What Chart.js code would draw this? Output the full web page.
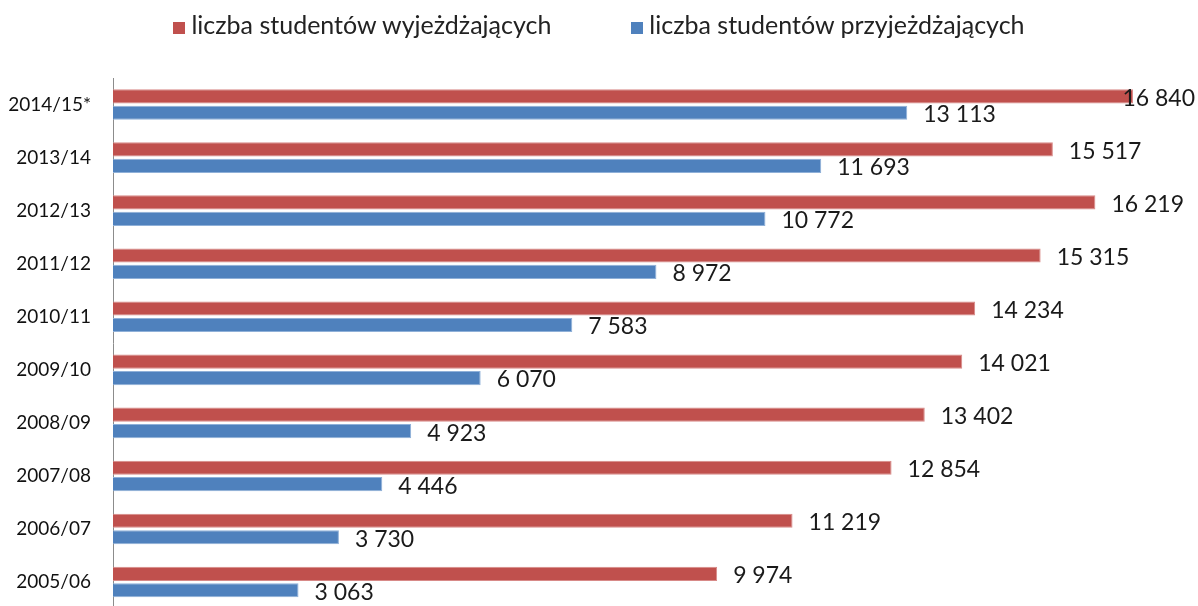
<!DOCTYPE html>
<html>
<head>
<meta charset="utf-8">
<script src="https://cdn.jsdelivr.net/npm/chart.js@4"></script>
<style>
  html, body { margin: 0; padding: 0; background: #fff; overflow: hidden; }
  #wrap { position: relative; width: 1198px; height: 606px; overflow: hidden; }
  #legend {
    position: absolute; top: 9px; left: 0; width: 1198px;
    display: flex; justify-content: center; gap: 80px;
    font: 25px Lato, "Noto Sans", sans-serif; color: #222;
  }
  #legend span.box { display: inline-block; width: 12px; height: 12px; margin-right: 6px; }
</style>
</head>
<body>
<div id="wrap">
  <div id="legend"></div>
  <canvas id="chart" width="1198" height="634"></canvas>
</div>
<script>
// Data
const years = ["2014/15*", "2013/14", "2012/13", "2011/12", "2010/11", "2009/10", "2008/09", "2007/08", "2006/07", "2005/06"];
const outgoing = [16840, 15517, 16219, 15315, 14234, 14021, 13402, 12854, 11219, 9974];
const incoming = [13113, 11693, 10772, 8972, 7583, 6070, 4923, 4446, 3730, 3063];
const seriesNames = ["liczba studentów wyjeżdżających", "liczba studentów przyjeżdżających"];
const colors = ["#C0504D", "#4F81BD"];

// Legend
const legend = document.getElementById("legend");
seriesNames.forEach((name, i) => {
  legend.innerHTML += `<div><span class="box" style="background:${colors[i]}"></span>${name}</div>`;
});

function fmt(v) {
  return v.toString().replace(/\B(?=(\d{3})+(?!\d))/g, " ");
}

// Value labels next to bars
const valueLabels = {
  id: "valueLabels",
  afterDatasetsDraw(chart) {
    const ctx = chart.ctx;
    ctx.save();
    ctx.font = "23px Lato, 'Noto Sans', sans-serif";
    ctx.fillStyle = "#1a1a1a";
    ctx.textBaseline = "middle";
    chart.data.datasets.forEach((ds, i) => {
      chart.getDatasetMeta(i).data.forEach((bar, j) => {
        const txt = fmt(ds.data[j]);
        const w = ctx.measureText(txt).width;
        let x = bar.x + 16;
        if (x + w > chart.width - 3) x = chart.width - 3 - w;
        ctx.fillText(txt, x, bar.y + 2);
      });
    });
    ctx.restore();
  }
};

new Chart(document.getElementById("chart"), {
  type: "bar",
  data: {
    labels: years,
    datasets: [
      {
        label: seriesNames[0],
        data: outgoing,
        backgroundColor: colors[0],
        borderColor: "#d88a88",
        borderWidth: 1,
        categoryPercentage: 0.62,
        barPercentage: 0.86
      },
      {
        label: seriesNames[1],
        data: incoming,
        backgroundColor: colors[1],
        borderColor: "#8fb0d8",
        borderWidth: 1,
        categoryPercentage: 0.62,
        barPercentage: 0.86
      }
    ]
  },
  options: {
    indexAxis: "y",
    responsive: false,
    animation: false,
    layout: { padding: { top: 78, right: 65, bottom: 0, left: 0 } },
    plugins: {
      legend: { display: false },
      tooltip: { enabled: false }
    },
    scales: {
      x: {
        display: false,
        min: 0,
        max: 16840
      },
      y: {
        grid: { display: false },
        border: { display: true, color: "#8c8c8c", width: 1 },
        ticks: {
          color: "#111",
          font: { family: "Lato, 'Noto Sans', sans-serif", size: 19 },
          padding: 14
        },
        afterFit(scale) { scale.width = 113; }
      }
    }
  },
  plugins: [valueLabels]
});
</script>
</body>
</html>
